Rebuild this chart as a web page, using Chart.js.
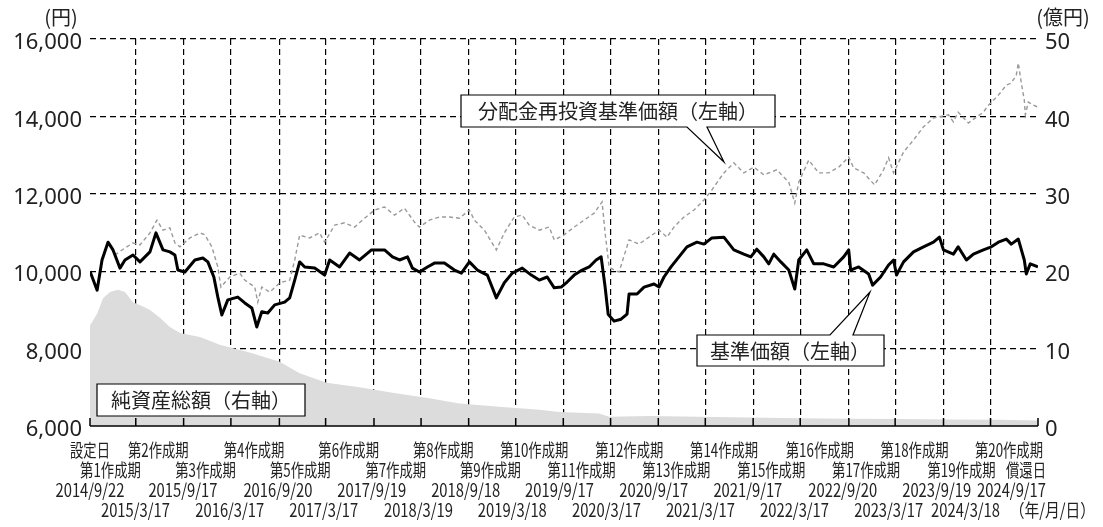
<!DOCTYPE html>
<html lang="ja">
<head>
<meta charset="utf-8">
<script src="https://cdn.jsdelivr.net/npm/chart.js@4.4.1/dist/chart.umd.min.js"></script>
<style>
html, body { margin: 0; padding: 0; background: #fff; }
canvas { display: block; }
</style>
</head>
<body>
<canvas id="chart" width="1103" height="527"></canvas>
<script>
// 設定日・各作成期末・償還日
const periodDates = ['2014/9/22', '2015/3/17', '2015/9/17', '2016/3/17', '2016/9/20', '2017/3/17', '2017/9/19',
  '2018/3/19', '2018/9/18', '2019/3/18', '2019/9/17', '2020/3/17', '2020/9/17', '2021/3/17', '2021/9/17',
  '2022/3/17', '2022/9/20', '2023/3/17', '2023/9/19', '2024/3/18', '2024/9/17'];
const periodNames = ['設定日', '第1作成期', '第2作成期', '第3作成期', '第4作成期', '第5作成期', '第6作成期',
  '第7作成期', '第8作成期', '第9作成期', '第10作成期', '第11作成期', '第12作成期', '第13作成期', '第14作成期',
  '第15作成期', '第16作成期', '第17作成期', '第18作成期', '第19作成期', '第20作成期'];
const leftTicks = [6000, 8000, 10000, 12000, 14000, 16000];
const rightTicks = [0, 10, 20, 30, 40, 50];

// 基準価額（左軸）
const navT = [2014.723, 2014.798, 2014.850, 2014.913, 2014.966, 2015.039, 2015.092, 2015.176, 2015.250, 2015.355,
  2015.418, 2015.492, 2015.565, 2015.618, 2015.649, 2015.723, 2015.828, 2015.912, 2015.965, 2016.028,
  2016.070, 2016.112, 2016.175, 2016.280, 2016.354, 2016.428, 2016.480, 2016.533, 2016.596, 2016.669,
  2016.774, 2016.827, 2016.880, 2016.932, 2016.985, 2017.090, 2017.195, 2017.248, 2017.353, 2017.458,
  2017.563, 2017.689, 2017.826, 2017.910, 2017.984, 2018.068, 2018.120, 2018.194, 2018.278, 2018.352,
  2018.457, 2018.562, 2018.636, 2018.720, 2018.804, 2018.909, 2019.004, 2019.088, 2019.172, 2019.277,
  2019.372, 2019.456, 2019.540, 2019.614, 2019.687, 2019.750, 2019.824, 2019.908, 2019.982, 2020.055,
  2020.108, 2020.150, 2020.182, 2020.244, 2020.318, 2020.381, 2020.402, 2020.486, 2020.560, 2020.665,
  2020.718, 2020.770, 2020.844, 2020.928, 2021.012, 2021.117, 2021.191, 2021.275, 2021.401, 2021.506,
  2021.611, 2021.685, 2021.748, 2021.822, 2021.874, 2021.927, 2022.001, 2022.085, 2022.148, 2022.190,
  2022.274, 2022.348, 2022.453, 2022.558, 2022.663, 2022.716, 2022.737, 2022.821, 2022.926, 2022.968,
  2023.052, 2023.136, 2023.189, 2023.220, 2023.294, 2023.399, 2023.504, 2023.609, 2023.672, 2023.714,
  2023.819, 2023.869, 2023.956, 2024.030, 2024.135, 2024.219, 2024.293, 2024.377, 2024.429, 2024.503,
  2024.566, 2024.587, 2024.629, 2024.710];
const navValues = [10000, 9510, 10290, 10750, 10550, 10080, 10290, 10420, 10240, 10500,
  10990, 10550, 10500, 10420, 10030, 9980, 10290, 10340, 10240, 9850,
  9330, 8870, 9260, 9330, 9180, 9050, 8560, 8950, 8920, 9130,
  9200, 9310, 9770, 10240, 10110, 10080, 9900, 10290, 10110, 10470,
  10290, 10550, 10550, 10370, 10290, 10370, 10080, 9980, 10110, 10210,
  10210, 10030, 9950, 10240, 10030, 9900, 9310, 9700, 9950, 10080,
  9900, 9770, 9850, 9570, 9590, 9720, 9900, 10030, 10110, 10290,
  10370, 9590, 8890, 8710, 8760, 8890, 9410, 9410, 9590, 9670,
  9590, 9850, 10110, 10370, 10630, 10750, 10700, 10860, 10880, 10550,
  10440, 10370, 10570, 10370, 10190, 10440, 10240, 10030, 9540, 10290,
  10550, 10190, 10190, 10110, 10370, 10550, 10030, 10110, 9930, 9640,
  9850, 10160, 10290, 9900, 10240, 10500, 10630, 10750, 10880, 10550,
  10440, 10630, 10290, 10440, 10550, 10630, 10750, 10830, 10700, 10830,
  10290, 9930, 10190, 10110];

// 分配金再投資基準価額（左軸）
const reinvT = [2014.723, 2014.798, 2014.850, 2014.913, 2014.987, 2015.092, 2015.176, 2015.250, 2015.355, 2015.429,
  2015.492, 2015.565, 2015.618, 2015.670, 2015.776, 2015.881, 2015.933, 2016.007, 2016.070, 2016.102,
  2016.196, 2016.301, 2016.354, 2016.459, 2016.491, 2016.533, 2016.617, 2016.722, 2016.827, 2016.880,
  2016.932, 2017.037, 2017.142, 2017.195, 2017.300, 2017.405, 2017.511, 2017.616, 2017.721, 2017.826,
  2017.931, 2018.036, 2018.141, 2018.194, 2018.299, 2018.404, 2018.510, 2018.615, 2018.720, 2018.773,
  2018.878, 2019.004, 2019.088, 2019.193, 2019.277, 2019.351, 2019.456, 2019.561, 2019.614, 2019.719,
  2019.824, 2019.929, 2020.034, 2020.118, 2020.150, 2020.192, 2020.244, 2020.297, 2020.402, 2020.507,
  2020.612, 2020.718, 2020.802, 2020.875, 2020.980, 2021.086, 2021.191, 2021.275, 2021.349, 2021.401,
  2021.506, 2021.611, 2021.717, 2021.822, 2021.958, 2022.085, 2022.148, 2022.190, 2022.295, 2022.400,
  2022.506, 2022.611, 2022.716, 2022.768, 2022.874, 2022.989, 2023.084, 2023.136, 2023.189, 2023.294,
  2023.399, 2023.504, 2023.609, 2023.767, 2023.819, 2023.869, 2023.977, 2024.135, 2024.188, 2024.293,
  2024.377, 2024.429, 2024.482, 2024.503, 2024.535, 2024.566, 2024.577, 2024.608, 2024.661, 2024.710];
const reinvValues = [10000, 9510, 10290, 10750, 10420, 10600, 10730, 10680, 10990, 11320,
  11060, 11120, 10730, 10630, 10860, 10990, 10940, 10630, 10110, 9590,
  9850, 9950, 9770, 9590, 9200, 9590, 9460, 9700, 9770, 10290,
  10930, 10860, 10990, 10750, 11190, 11250, 11140, 11370, 11580, 11660,
  11450, 11630, 11270, 11140, 11320, 11400, 11400, 11370, 11580, 11320,
  11060, 10550, 10990, 11400, 11450, 11190, 11060, 11140, 10810, 10940,
  11140, 11320, 11500, 11790, 10990, 10110, 10030, 9980, 10810, 10700,
  10880, 11060, 10880, 11140, 11400, 11580, 11840, 12100, 12360, 12540,
  12800, 12540, 12690, 12490, 12620, 12300, 11760, 12300, 12870, 12540,
  12540, 12690, 12950, 12670, 12540, 12230, 12620, 12930, 12540, 13080,
  13390, 13730, 13960, 14040, 13860, 14110, 13830, 14110, 14290, 14550,
  14810, 14860, 15070, 15380, 14860, 14420, 14040, 14370, 14290, 14240];

// 純資産総額（右軸、億円）
const assetT = [2014.723, 2014.798, 2014.861, 2014.934, 2015.018, 2015.092, 2015.176, 2015.271, 2015.355, 2015.460,
  2015.565, 2015.670, 2015.881, 2016.091, 2016.406, 2016.722, 2016.932, 2017.216, 2017.563, 2017.910,
  2018.299, 2018.615, 2019.035, 2019.456, 2019.666, 2020.087, 2020.192, 2020.612, 2021.138, 2021.664,
  2022.190, 2022.716, 2023.241, 2023.767, 2024.293, 2024.710];
const assetValues = [13.0, 14.5, 16.5, 17.3, 17.6, 17.3, 16.0, 15.5, 15.0, 14.0,
  12.8, 12.0, 11.5, 10.5, 9.5, 8.3, 6.8, 5.6, 5.0, 4.3,
  3.6, 2.9, 2.5, 2.1, 1.8, 1.6, 1.2, 1.3, 1.2, 1.1,
  1.0, 0.95, 0.9, 0.85, 0.8, 0.7];

function toYear(s) {
  const [y, m, d] = s.split('/').map(Number);
  const start = Date.UTC(y, 0, 1);
  const end = Date.UTC(y + 1, 0, 1);
  return y + (Date.UTC(y, m - 1, d) - start) / (end - start);
}

function pts(t, v) {
  return t.map((x, i) => ({x: x, y: v[i]}));
}

// 横に縮めた文字を描く
function squeezed(ctx, text, x, y, sx, align) {
  ctx.save();
  ctx.translate(x, y);
  ctx.scale(sx, 1);
  ctx.textAlign = align;
  ctx.fillText(text, 0, 0);
  ctx.restore();
}

const decor = {
  id: 'decor',
  afterDraw(chart) {
    const ctx = chart.ctx;
    const a = chart.chartArea;
    const x = chart.scales.x;
    ctx.save();
    ctx.setLineDash([]);

    // 横軸と目盛り
    ctx.strokeStyle = '#000';
    ctx.lineWidth = 1.5;
    ctx.beginPath();
    ctx.moveTo(a.left, a.bottom);
    ctx.lineTo(a.right, a.bottom);
    periodDates.forEach(d => {
      const px = x.getPixelForValue(toYear(d));
      ctx.moveTo(px, a.bottom);
      ctx.lineTo(px, a.bottom - 8);
    });
    ctx.stroke();

    // 横軸ラベル（4段）
    const rowY = [24, 44, 64, 84].map(v => a.bottom + v);
    ctx.font = '18px "Noto Sans CJK JP"';
    ctx.fillStyle = '#222';
    ctx.textBaseline = 'middle';
    const sxName = 0.74, sxDate = 0.82;
    periodDates.forEach((d, i) => {
      const px = x.getPixelForValue(toYear(d));
      if (i === 0) squeezed(ctx, periodNames[0], px, rowY[0], sxName, 'center');
      else squeezed(ctx, periodNames[i], px + 5, rowY[i % 2 === 0 ? 0 : 1], sxName, 'right');
      const row = i % 2 === 0 ? 2 : 3;
      const limit = row === 2 ? a.right + 8 : a.right - 38;
      const w = ctx.measureText(d).width * sxDate;
      const cx = px - (px - a.left) * 0.008;
      squeezed(ctx, d, Math.min(cx, limit - w / 2), rowY[row], sxDate, 'center');
    });
    const endX = x.getPixelForValue(toYear(periodDates[periodDates.length - 1]));
    squeezed(ctx, '償還日', endX + 8, rowY[1], sxName, 'right');
    squeezed(ctx, '（年/月/日）', a.right + 57, rowY[3], sxDate, 'right');

    // 単位
    ctx.font = '20px "Noto Sans CJK JP"';
    ctx.textAlign = 'center';
    ctx.fillText('(円)', a.left - 29, 17);
    ctx.fillText('(億円)', a.right + 25, 17);

    // 吹き出し
    ctx.lineWidth = 1.2;
    ctx.strokeStyle = '#000';
    ctx.fillStyle = '#fff';
    const shape = p => {
      ctx.beginPath();
      ctx.moveTo(p[0][0], p[0][1]);
      p.slice(1).forEach(q => ctx.lineTo(q[0], q[1]));
      ctx.closePath();
      ctx.fill();
      ctx.stroke();
    };
    shape([[461, 95], [775, 95], [775, 127], [707, 127], [724, 162], [687, 127], [461, 127]]);
    shape([[697, 335], [830, 335], [870, 292], [853, 335], [884, 335], [884, 366], [697, 366]]);
    shape([[97, 384], [305, 384], [305, 416], [97, 416]]);

    ctx.fillStyle = '#222';
    ctx.font = '20px "Noto Sans CJK JP"';
    ctx.textAlign = 'center';
    ctx.fillText('分配金再投資基準価額（左軸）', 618, 111);
    ctx.fillText('基準価額（左軸）', 790, 351);
    ctx.fillText('純資産総額（右軸）', 201, 400);
    ctx.restore();
  }
};

new Chart(document.getElementById('chart'), {
  type: 'line',
  data: {
    datasets: [{
      label: '基準価額',
      data: pts(navT, navValues),
      yAxisID: 'y',
      borderColor: '#000',
      borderWidth: 3,
      borderJoinStyle: 'round',
      pointRadius: 0,
      order: 0
    }, {
      label: '分配金再投資基準価額',
      data: pts(reinvT, reinvValues),
      yAxisID: 'y',
      borderColor: '#9a9a9a',
      borderWidth: 1.4,
      borderDash: [4, 3],
      pointRadius: 0,
      order: 1
    }, {
      label: '純資産総額',
      data: pts(assetT, assetValues),
      yAxisID: 'y1',
      borderWidth: 0,
      borderColor: 'rgba(0,0,0,0)',
      backgroundColor: '#dcdcdc',
      fill: 'start',
      pointRadius: 0,
      order: 2
    }]
  },
  options: {
    responsive: false,
    devicePixelRatio: 1,
    animation: false,
    events: [],
    layout: {padding: {top: 39, left: 0, right: 0, bottom: 0}},
    plugins: {legend: {display: false}, tooltip: {enabled: false}},
    scales: {
      x: {
        type: 'linear',
        z: 1,
        min: toYear(periodDates[0]),
        max: toYear(periodDates[periodDates.length - 1]),
        afterBuildTicks: s => { s.ticks = periodDates.slice(1, -1).map(d => ({value: toYear(d)})); },
        afterFit: s => { s.height = 101; },
        ticks: {display: false},
        grid: {color: '#000', lineWidth: 1.2, drawTicks: false},
        border: {display: false, dash: [6, 4]}
      },
      y: {
        position: 'left',
        z: 1,
        min: leftTicks[0],
        max: leftTicks[leftTicks.length - 1],
        afterBuildTicks: s => { s.ticks = leftTicks.map(v => ({value: v})); },
        afterFit: s => { s.width = 90; },
        ticks: {
          padding: 8,
          labelOffset: 4,
          color: '#222',
          font: {family: 'Noto Sans', size: 22},
          callback: v => v.toLocaleString('en-US')
        },
        grid: {
          color: c => (c.tick && c.tick.value === leftTicks[0]) ? 'rgba(0,0,0,0)' : '#000',
          lineWidth: 1.2,
          drawTicks: false
        },
        border: {display: false, dash: [6, 4]}
      },
      y1: {
        position: 'right',
        min: rightTicks[0],
        max: rightTicks[rightTicks.length - 1],
        afterBuildTicks: s => { s.ticks = rightTicks.map(v => ({value: v})); },
        afterFit: s => { s.width = 65; },
        ticks: {
          padding: 7,
          labelOffset: 4,
          color: '#222',
          font: {family: 'Noto Sans', size: 22}
        },
        grid: {display: false, drawTicks: false},
        border: {display: false}
      }
    }
  },
  plugins: [decor]
});
</script>
</body>
</html>
